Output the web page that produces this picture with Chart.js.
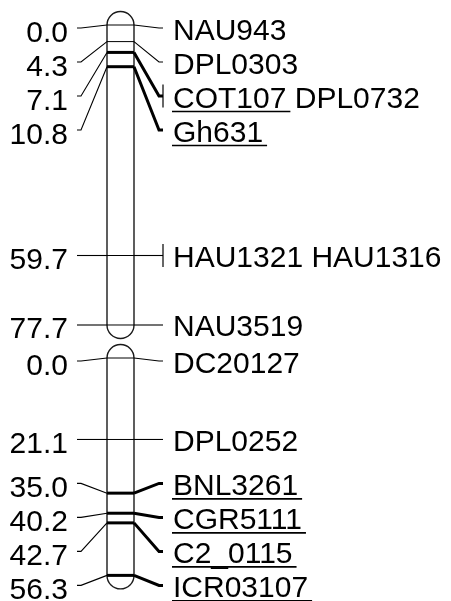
<!DOCTYPE html>
<html>
<head>
<meta charset="utf-8">
<script src="https://cdn.jsdelivr.net/npm/chart.js@4/dist/chart.umd.min.js"></script>
<style>
  html, body { margin: 0; padding: 0; background: #fff; }
  canvas { display: block; }
</style>
</head>
<body>
<canvas id="mapChart" width="451" height="601"></canvas>
<script>
// linkage group 1 (cM)
const lg1Pos = [0.0, 4.3, 7.1, 10.8, 59.7, 77.7];
const lg1Names = [['NAU943'], ['DPL0303'], ['COT107', 'DPL0732'], ['Gh631'], ['HAU1321', 'HAU1316'], ['NAU3519']];
const lg1Bold = [false, false, true, true, false, false];

// linkage group 2 (cM)
const lg2Pos = [0.0, 21.1, 35.0, 40.2, 42.7, 56.3];
const lg2Names = [['DC20127'], ['DPL0252'], ['BNL3261'], ['CGR5111'], ['C2_0115'], ['ICR03107']];
const lg2Bold = [false, false, true, true, true, true];

// gap between the two groups on the shared axis
const GAP_CM = 8.55;

const FONT = '30px "Liberation Sans", Arial, sans-serif';
const LABEL_STEP = 34;

document.addEventListener('DOMContentLoaded', () => {
  const groups = [
    { pos: lg1Pos, names: lg1Names, bold: lg1Bold, offset: 0 },
    { pos: lg2Pos, names: lg2Names, bold: lg2Bold, offset: lg1Pos[lg1Pos.length - 1] + GAP_CM },
  ];
  const yMax = groups[1].offset + lg2Pos[lg2Pos.length - 1];

  // push labels apart top-down, then pull back from the bottom limit
  function spread(ys) {
    const out = ys.slice();
    const top = ys[0] + 3, bottom = ys[ys.length - 1] + 10;
    for (let i = 0; i < out.length; i++) {
      out[i] = Math.max(out[i], i ? out[i - 1] + LABEL_STEP : top);
    }
    for (let i = out.length - 1; i >= 0; i--) {
      out[i] = Math.min(out[i], i < out.length - 1 ? out[i + 1] - LABEL_STEP : bottom);
    }
    return out;
  }

  const linkageMap = {
    id: 'linkageMap',
    afterDraw(chart) {
      const { ctx, scales: { x, y } } = chart;
      const chrL = x.getPixelForValue(107), chrR = x.getPixelForValue(134);
      const r = (chrR - chrL) / 2;
      const leftEnd = x.getPixelForValue(77), rightEnd = x.getPixelForValue(163);
      const stub = 4;
      ctx.save();
      ctx.strokeStyle = '#000';
      ctx.fillStyle = '#000';
      ctx.font = FONT;
      ctx.lineCap = 'butt';

      groups.forEach(g => {
        const ys = g.pos.map(p => y.getPixelForValue(p + g.offset));
        const ls = spread(ys);
        const yTop = ys[0], yBot = ys[ys.length - 1];

        // chromosome body
        ctx.lineWidth = 1.4;
        ctx.strokeStyle = '#1a1a1a';
        ctx.beginPath();
        ctx.moveTo(chrL, yTop);
        ctx.lineTo(chrL, yBot);
        ctx.arc(chrL + r, yBot, r, Math.PI, 0, true);
        ctx.lineTo(chrR, yTop);
        ctx.arc(chrL + r, yTop, r, 0, Math.PI, true);
        ctx.stroke();
        ctx.strokeStyle = '#000';

        g.pos.forEach((p, i) => {
          const my = ys[i], ly = ls[i], bold = g.bold[i];

          // line across the chromosome
          ctx.lineWidth = bold ? 3 : 1;
          ctx.beginPath();
          ctx.moveTo(chrL, my);
          ctx.lineTo(chrR, my);
          ctx.stroke();

          // left connector
          ctx.lineWidth = 1.1;
          ctx.beginPath();
          ctx.moveTo(leftEnd, ly);
          ctx.lineTo(leftEnd + stub, ly);
          ctx.lineTo(chrL, my);
          ctx.stroke();

          // right connector
          ctx.lineWidth = bold ? 3 : 1.1;
          ctx.beginPath();
          ctx.moveTo(chrR, my);
          ctx.lineTo(rightEnd - stub, ly);
          ctx.lineTo(rightEnd, ly);
          ctx.stroke();

          if (g.names[i].length > 1) {
            ctx.lineWidth = 1.2;
            ctx.beginPath();
            ctx.moveTo(rightEnd, ly - 11.5);
            ctx.lineTo(rightEnd, ly + 11.5);
            ctx.stroke();
          }

          // position label
          ctx.textAlign = 'right';
          ctx.textBaseline = 'alphabetic';
          ctx.fillText(p.toFixed(1), x.getPixelForValue(68), ly + 13.5);

          // marker names
          ctx.textAlign = 'left';
          let tx = x.getPixelForValue(173);
          g.names[i].forEach((name, k) => {
            const w = ctx.measureText(name).width;
            ctx.fillText(name, tx, ly + 11.5);
            if (bold && k === 0) {
              ctx.lineWidth = 1.6;
              ctx.beginPath();
              ctx.moveTo(tx - 1, ly + 15.5);
              ctx.lineTo(tx + w + 4, ly + 15.5);
              ctx.stroke();
            }
            tx += w + ctx.measureText(' ').width;
          });
        });
      });
      ctx.restore();
    },
  };

  const points = groups.flatMap(g => g.pos.map(p => ({ x: 120.5, y: p + g.offset })));

  new Chart(document.getElementById('mapChart'), {
    type: 'scatter',
    data: {
      datasets: [{ data: points, pointRadius: 0, pointHoverRadius: 0 }],
    },
    options: {
      responsive: false,
      animation: false,
      events: [],
      layout: { padding: { top: 25, bottom: 601 - 25 - yMax * 3.861, left: 0, right: 0 } },
      plugins: { legend: { display: false }, tooltip: { enabled: false } },
      scales: {
        x: { type: 'linear', display: false, min: 0, max: 451 },
        y: { type: 'linear', display: false, reverse: true, min: 0, max: yMax },
      },
    },
    plugins: [linkageMap],
  });
});
</script>
</body>
</html>
